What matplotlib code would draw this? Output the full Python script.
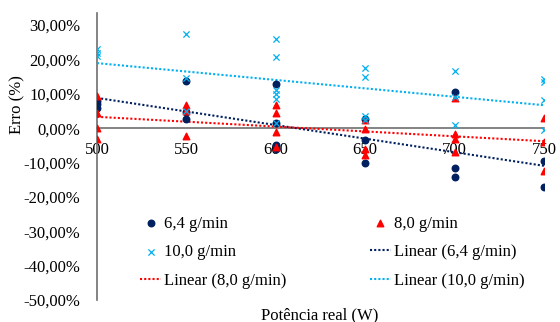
import matplotlib.pyplot as plt
import numpy as np

plt.rcParams['font.family'] = ['Liberation Serif', 'DejaVu Serif']

# potência real (W) e erro (%)
x_64 = [500, 500, 500, 550, 550, 550, 600, 600, 600, 600,
        650, 650, 650, 700, 700, 700, 750, 750]
y_64 = [8.0, 7.0, 6.0, 13.6, 4.6, 2.8, 12.8, 1.4, -5.0, -6.0,
        2.6, -3.5, -10.0, 10.4, -11.5, -14.3, -9.5, -17.0]

x_80 = [500, 500, 500, 500, 550, 550, 550, 600, 600, 600, 600,
        650, 650, 650, 650, 700, 700, 700, 700, 750, 750, 750]
y_80 = [9.3, 4.5, 0.0, -3.2, 6.7, 4.9, -2.3, 6.7, 4.3, -1.2, -5.5,
        2.5, -0.3, -6.0, -7.8, 8.7, -1.7, -3.2, -7.0, 3.0, -4.0, -12.5]

x_100 = [500, 500, 500, 550, 550, 550, 600, 600, 600, 600, 600, 600,
         650, 650, 650, 650, 700, 700, 700, 750, 750, 750, 750]
y_100 = [23.0, 22.0, 21.0, 27.3, 14.5, 5.0, 25.8, 20.8, 11.0, 10.0, 8.5, 1.5,
         17.6, 15.0, 3.5, 2.5, 16.5, 9.0, 1.0, 14.2, 13.3, 8.2, -0.6]

yticks = [30, 20, 10, 0, -10, -20, -30, -40, -50]
xticks = [500, 550, 600, 650, 700, 750]

c_64 = '#002060'
c_80 = '#FF0000'
c_100 = '#00B0F0'

fig = plt.figure(figsize=(5.6, 3.22), dpi=100)
ax = fig.add_axes([97 / 560, 1 - 300 / 322, 447 / 560, 287 / 322])

h1 = ax.scatter(x_64, y_64, s=22, marker='o', color=c_64, zorder=4, label='6,4 g/min')
h2 = ax.scatter(x_80, y_80, s=22, marker='^', color=c_80, zorder=4, label='8,0 g/min')
h3 = ax.scatter(x_100, y_100, s=20, marker='x', color=c_100, linewidths=0.9,
                zorder=4, label='10,0 g/min')

xs = np.array([500, 750])
lines = []
for xd, yd, c, lab in [(x_64, y_64, c_64, 'Linear (6,4 g/min)'),
                       (x_80, y_80, c_80, 'Linear (8,0 g/min)'),
                       (x_100, y_100, c_100, 'Linear (10,0 g/min)')]:
    k, b = np.polyfit(xd, yd, 1)
    ln, = ax.plot(xs, k * xs + b, color=c, lw=1.5, ls=(0, (1, 1)), zorder=3, label=lab)
    lines.append(ln)

ax.set_xlim(500, 750)
ax.set_ylim(-50, 33.5)
ax.set_xticks(xticks)
ax.set_yticks(yticks)
ax.set_yticklabels(['{:.2f}%'.format(v).replace('.', ',') for v in yticks])
ax.tick_params(axis='both', length=0, labelsize=12, colors='#000000')
ax.tick_params(axis='y', pad=12)
ax.tick_params(axis='x', pad=10)

for s in ['top', 'right']:
    ax.spines[s].set_visible(False)
ax.spines['bottom'].set_position(('data', 0))
ax.spines['left'].set_color('#6e6e6e')
ax.spines['bottom'].set_color('#6e6e6e')
ax.spines['left'].set_linewidth(1.2)
ax.spines['bottom'].set_linewidth(1.2)

handles = [h1, h3, lines[1], h2, lines[0], lines[2]]
ax.legend(handles=handles, labels=[h.get_label() for h in handles], ncol=2,
          loc='center', bbox_to_anchor=(0.526, 0.167), frameon=False, fontsize=12,
          handlelength=1.3, handletextpad=0.15, columnspacing=5.0, labelspacing=0.75,
          borderpad=0)

fig.text(320 / 560, 1 - 315 / 322, 'Potência real (W)', ha='center', va='center', fontsize=12)
fig.text(17 / 560, 1 - 105 / 322, 'Erro (%)', ha='center', va='center', rotation=90, fontsize=12)

fig.savefig('out.png', dpi=100)
